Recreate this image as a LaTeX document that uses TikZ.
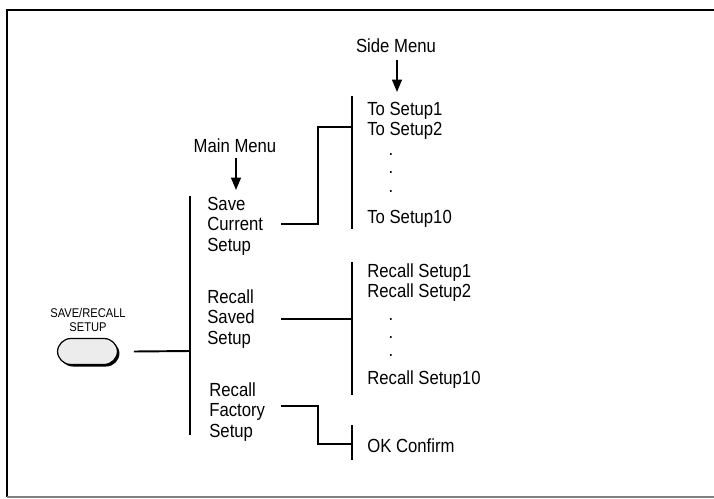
\documentclass[tikz,border=0pt]{standalone}
\usepackage{fontspec}
\setmainfont{Liberation Sans}[FakeStretch=0.88]
\usetikzlibrary{arrows.meta, positioning}

\begin{document}
\begin{tikzpicture}[
    x=0.02cm, y=-0.02cm,
    item/.style={anchor=west, inner sep=0pt, align=left, font=\fontsize{10.8}{11.7}\selectfont},
    menuname/.style={inner sep=0pt, font=\fontsize{10.8}{11.7}\selectfont},
    dots/.style={inner sep=0pt, font=\fontsize{10.8}{11.7}\selectfont},
    button/.style={rectangle, rounded corners=0.27cm, minimum width=1.2cm, minimum height=0.52cm, inner sep=0pt},
    wire/.style={line width=1.1pt},
    bar/.style={line width=1.2pt},
    arrow/.style={-{Triangle[length=7pt,width=5.5pt]}, line width=1.1pt}
]
\useasboundingbox (0,0) rectangle (714,498);
% frame
\draw[line width=1.5pt] (714,10) -- (7,10) -- (7,497);
\draw[gray, line width=0.6pt] (7,497) -- (714,497);

% front panel button
\node[button, fill=black] (shadow) at (89.5,353.5) {};
\node[button, draw, fill=gray!15, line width=0.7pt] (button) at (87.5,351.5) {};
\node[align=center, inner sep=0pt, font=\fontsize{7.2}{8.5}\selectfont] (btnlabel) at (88,320) {SAVE/RECALL\\SETUP};

% main menu
\node[menuname] (mainname) at (235,146) {Main Menu};
\coordinate (mainarrow) at (236,190);
\coordinate (mtop) at (190,196);
\coordinate (mbot) at (190,435);
\coordinate (mjoin) at (190,351);
\node[item] (save) at (207,226) {Save\\Current\\Setup};
\node[item] (saved) at (207,319) {Recall\\Saved\\Setup};
\node[item] (factory) at (209,412) {Recall\\Factory\\Setup};
\coordinate (wstart) at (281,0);

% side menu
\node[menuname] (sidename) at (396,46) {Side Menu};
\coordinate (sidearrow) at (397,92);
\coordinate (atop) at (352,96);
\coordinate (abot) at (352,229);
\coordinate (ajoin) at (352,127);
\coordinate (btop) at (352,262);
\coordinate (bbot) at (352,395);
\coordinate (bjoin) at (352,319);
\coordinate (ctop) at (352,425);
\coordinate (cbot) at (352,460);
\coordinate (cjoin) at (352,444);

\node[item] (to1) at (367,111) {To Setup1};
\node[item] (to2) at (367,131) {To Setup2};
\node[dots] (tod1) at (391,154) {.};
\node[dots] (tod2) at (391,172) {.};
\node[dots] (tod3) at (391,191) {.};
\node[item] (to10) at (367,219) {To Setup10};

\node[item] (rc1) at (367,273) {Recall Setup1};
\node[item] (rc2) at (367,293) {Recall Setup2};
\node[dots] (rcd1) at (391,319) {.};
\node[dots] (rcd2) at (391,337) {.};
\node[dots] (rcd3) at (391,355) {.};
\node[item] (rc10) at (367,380) {Recall Setup10};

\node[item] (ok) at (367,446) {OK Confirm};

% bars
\draw[bar] (mtop) -- (mbot);
\draw[bar] (atop) -- (abot);
\draw[bar] (btop) -- (bbot);
\draw[bar] (ctop) -- (cbot);

% connectors
\draw[arrow] (mainname.south) ++(1,5) -- (mainarrow);
\draw[arrow] (sidename.south) ++(1,7) -- (sidearrow);
\draw[wire] ([xshift=9pt]button.east) -- (mjoin);
\draw[wire] (wstart |- ajoin) ++(0,97) -- ++(37,0) |- (ajoin);
\draw[wire] (wstart |- bjoin) -- (bjoin);
\draw[wire] (wstart |- cjoin) ++(0,-38) -- ++(37,0) |- (cjoin);
\end{tikzpicture}
\end{document}
